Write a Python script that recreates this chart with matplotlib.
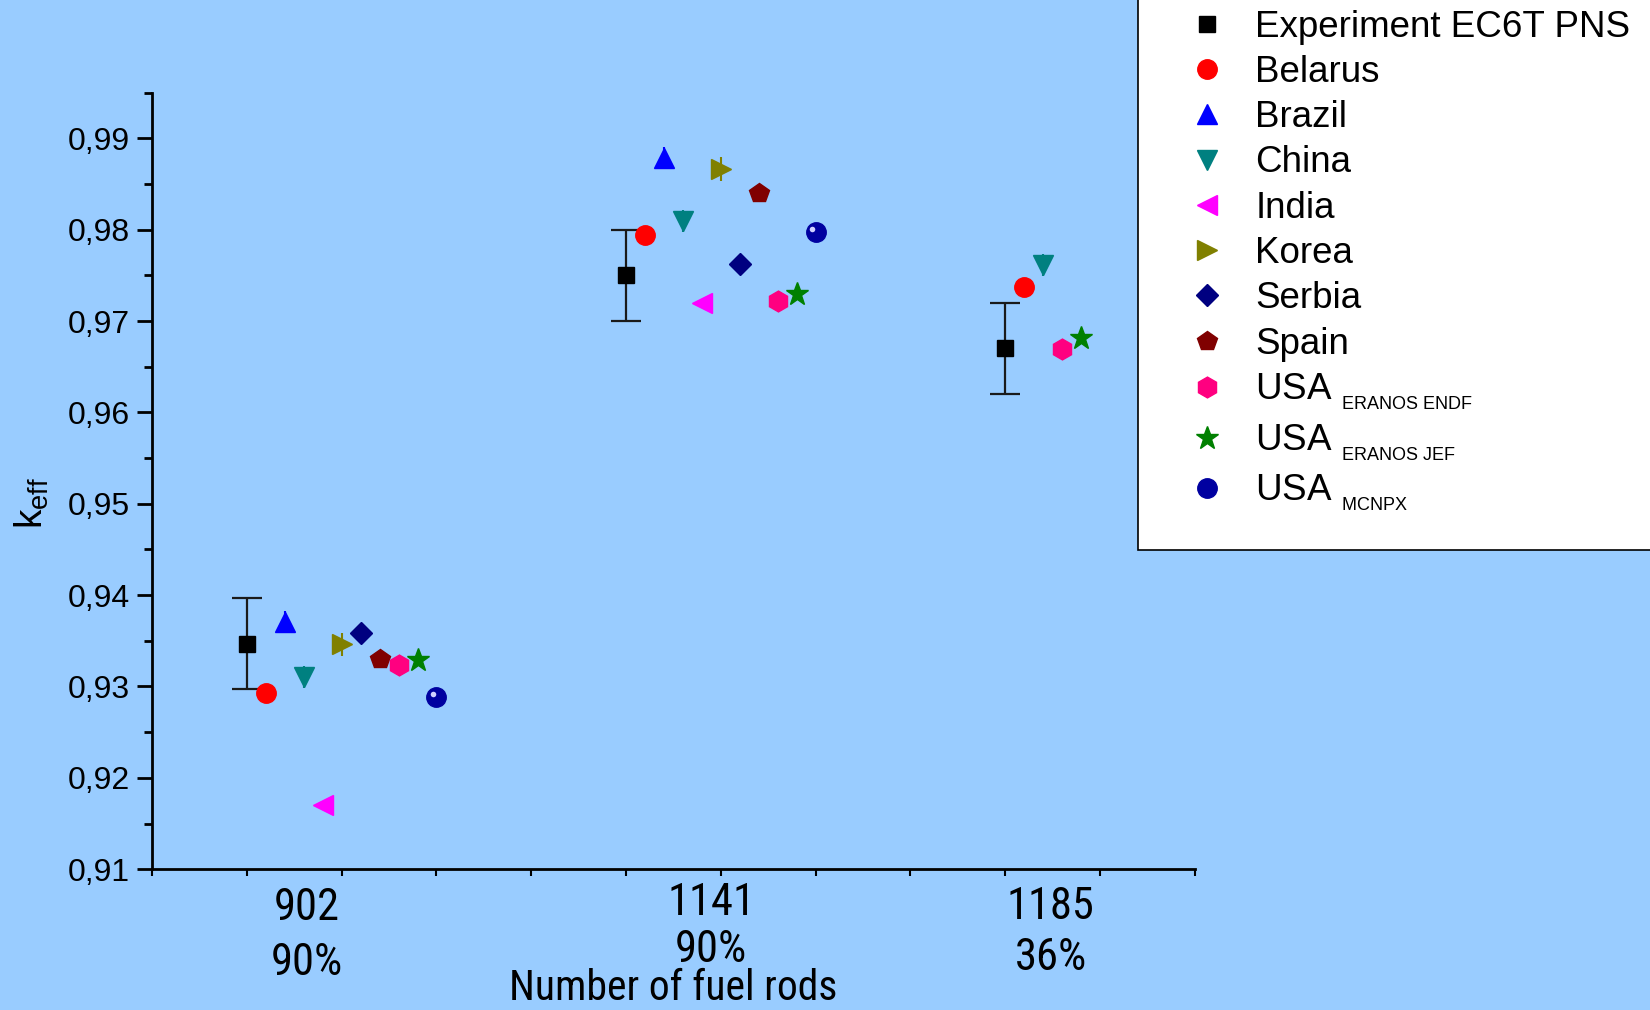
import numpy as np
import matplotlib
matplotlib.use('Agg')
import matplotlib.pyplot as plt
import matplotlib.transforms as mtransforms
from matplotlib.ticker import MultipleLocator, FuncFormatter

plt.rcParams['font.family'] = ['Liberation Sans', 'DejaVu Sans']
plt.rcParams['mathtext.fontset'] = 'custom'
plt.rcParams['mathtext.rm'] = 'Liberation Sans'
plt.rcParams['mathtext.it'] = 'Liberation Sans:italic'

# k_eff values, x = position along the axis
exp_x = [1.0, 5.0, 9.0]
exp_y = [0.9347, 0.9750, 0.9670]
exp_err = [0.005, 0.005, 0.005]

belarus_x = [1.2, 5.2, 9.2]
belarus_y = [0.9293, 0.9794, 0.9737]

brazil_x = [1.4, 5.4]
brazil_y = [0.9371, 0.9878]
brazil_err = [0.0012, 0.0012]

china_x = [1.6, 5.6, 9.4]
china_y = [0.9310, 0.9809, 0.9761]
china_err = [0.0012, 0.0012, 0.0012]

india_x = [1.8, 5.8]
india_y = [0.9170, 0.9720]

korea_x = [2.0, 6.0]
korea_y = [0.9346, 0.9866]
korea_err = [0.0013, 0.0013]

serbia_x = [2.2, 6.2]
serbia_y = [0.9359, 0.9762]

spain_x = [2.4, 6.4]
spain_y = [0.9330, 0.9840]
spain_err = [0.0008, 0.0008]

endf_x = [2.6, 6.6, 9.6]
endf_y = [0.9323, 0.9722, 0.9669]

jef_x = [2.8, 6.8, 9.8]
jef_y = [0.9329, 0.9730, 0.9681]

mcnpx_x = [3.0, 7.0]
mcnpx_y = [0.9288, 0.9797]

rods = ['902', '1141', '1185']
enrich = ['90%', '90%', '36%']

bg = '#99CCFF'
fig = plt.figure(figsize=(16.5, 10.1), dpi=100, facecolor=bg)
ax = fig.add_axes([0.0922, 0.1394, 0.6319, 0.7689], facecolor=bg)

# error bars first, markers on top
ax.errorbar(exp_x, exp_y, yerr=exp_err, fmt='none', ecolor='#1a1a1a',
            elinewidth=1.6, capsize=11, capthick=1.6, zorder=2)
for xs, ys, es, c in [(brazil_x, brazil_y, brazil_err, '#0000FF'),
                      (china_x, china_y, china_err, '#008080'),
                      (korea_x, korea_y, korea_err, '#808000'),
                      (spain_x, spain_y, spain_err, '#800000')]:
    ax.errorbar(xs, ys, yerr=es, fmt='none', ecolor=c, elinewidth=1.5,
                capsize=0, zorder=2)

series = [
    (exp_x, exp_y, 's', '#000000', 12, 'Experiment EC6T PNS'),
    (belarus_x, belarus_y, 'o', '#FF0000', 14, 'Belarus'),
    (brazil_x, brazil_y, '^', '#0000FF', 15, 'Brazil'),
    (china_x, china_y, 'v', '#008080', 15, 'China'),
    (india_x, india_y, '<', '#FF00FF', 15, 'India'),
    (korea_x, korea_y, '>', '#808000', 15, 'Korea'),
    (serbia_x, serbia_y, 'D', '#000080', 11.5, 'Serbia'),
    (spain_x, spain_y, 'p', '#800000', 15, 'Spain'),
    (endf_x, endf_y, 'h', '#FF0080', 15, r'USA $_{_{\mathrm{ERANOS\ ENDF}}}$'),
    (jef_x, jef_y, '*', '#008000', 17, r'USA $_{_{\mathrm{ERANOS\ JEF}}}$'),
    (mcnpx_x, mcnpx_y, 'o', '#0000A0', 14, r'USA $_{_{\mathrm{MCNPX}}}$'),
]

handles = []
for xs, ys, m, c, ms, lab in series:
    h, = ax.plot(xs, ys, linestyle='none', marker=m, ms=ms, color=c,
                 mec=c, label=lab, zorder=3)
    handles.append(h)

# little shine on the MCNPX spheres
shine = mtransforms.ScaledTranslation(-2.5 / 72, 2.5 / 72, fig.dpi_scale_trans)
ax.plot(mcnpx_x, mcnpx_y, linestyle='none', marker='o', ms=4,
        color='#d0d0ff', mec='none', transform=ax.transData + shine, zorder=4)

ax.set_xlim(0, 11)
ax.set_ylim(0.91, 0.995)
for s in ['top', 'right']:
    ax.spines[s].set_visible(False)
for s in ['left', 'bottom']:
    ax.spines[s].set_linewidth(2)

ax.xaxis.set_major_locator(MultipleLocator(1))
ax.tick_params(axis='x', length=5, width=1.5, direction='out', labelbottom=False)
ax.yaxis.set_major_locator(MultipleLocator(0.01))
ax.yaxis.set_minor_locator(MultipleLocator(0.005))
ax.yaxis.set_major_formatter(FuncFormatter(lambda v, p: f'{v:.2f}'.replace('.', ',')))
ax.tick_params(axis='y', which='major', length=11, width=2, direction='out',
               labelsize=23, pad=5)
ax.tick_params(axis='y', which='minor', length=6, width=2, direction='out')

narrow = ['Roboto Condensed', 'Open Sans Condensed', 'DejaVu Sans Condensed',
          'Liberation Sans']
trans = mtransforms.blended_transform_factory(ax.transData, fig.transFigure)
label_x = [1.63, 5.90, 9.48]
top_y = [908, 903, 907]
bot_y = [963, 950, 958]
for i in range(3):
    ax.text(label_x[i], 1 - top_y[i] / 1010, rods[i], transform=trans,
            ha='center', va='center', fontsize=32, family=narrow,
            stretch='condensed')
    ax.text(label_x[i], 1 - bot_y[i] / 1010, enrich[i], transform=trans,
            ha='center', va='center', fontsize=32, family=narrow,
            stretch='condensed')

fig.text(673 / 1650, 1 - 988 / 1010, 'Number of fuel rods', ha='center',
         va='center', fontsize=30, family=narrow, stretch='condensed')
fig.text(32 / 1650, 1 - 503 / 1010, r'k$_{\mathrm{eff}}$', rotation=90,
         ha='center', va='center', fontsize=28)

leg = fig.legend(handles=handles, loc='lower left',
                 bbox_to_anchor=(1137.5 / 1650, 1 - 550 / 1010),
                 fontsize=26.5, frameon=True, fancybox=False, edgecolor='black',
                 facecolor='white', framealpha=1, borderpad=1.0,
                 handlelength=1.75, handletextpad=0.45, labelspacing=0.28,
                 borderaxespad=0)
leg.get_frame().set_linewidth(1.2)

fig.savefig('out.png', dpi=100, facecolor=bg)
